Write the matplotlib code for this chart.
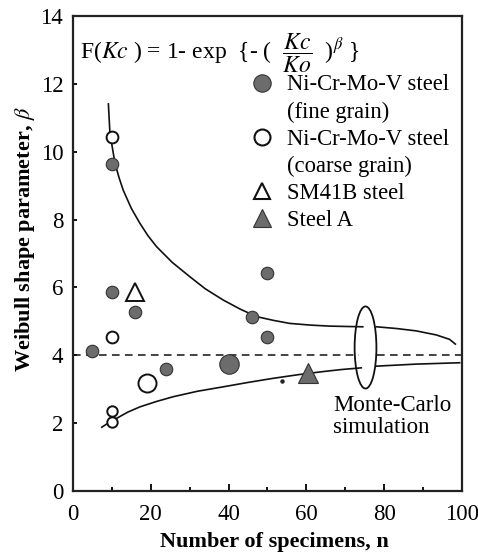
import matplotlib
matplotlib.use("Agg")
import matplotlib.pyplot as plt
from matplotlib.lines import Line2D
from matplotlib.patches import Ellipse

plt.rcParams['font.family'] = ['Liberation Serif', 'DejaVu Serif']
plt.rcParams['mathtext.fontset'] = 'stix'

# ---- data ----
fine_n = [5, 10, 10, 16, 24, 40, 46, 50, 50]
fine_beta = [4.12, 9.64, 5.86, 5.27, 3.59, 3.75, 5.13, 6.44, 4.55]
coarse_n = [10, 10, 19, 10, 10]
coarse_beta = [10.42, 4.55, 3.19, 2.36, 2.03]
sm41b_n = [16]
sm41b_beta = [5.87]
steelA_n = [60.4]
steelA_beta = [3.48]
dot_n = [53.7]
dot_beta = [3.24]

# Monte-Carlo bounds, left part (before the bracket) and right part
upper_n = [9.1, 9.5, 10.8, 11.8, 12.9, 15.0, 17.2, 19.3, 21.5, 25.5, 30.0, 34.0,
           38.6, 43.0, 47.2, 51.5, 55.7, 61.0, 66.0, 70.0, 74.5]
upper_beta = [11.41, 10.54, 9.66, 9.25, 8.87, 8.33, 7.89, 7.52, 7.20, 6.74, 6.32, 5.96,
              5.63, 5.36, 5.14, 5.03, 4.94, 4.89, 4.86, 4.85, 4.84]
upper_n2 = [78.0, 83.1, 88.2, 93.4, 96.8, 98.3]
upper_beta2 = [4.84, 4.79, 4.72, 4.60, 4.47, 4.33]
lower_n = [7.4, 9.3, 11.2, 14.0, 17.2, 21.5, 25.8, 32.0, 38.6, 45.0, 51.4, 58.0,
           64.3, 69.0, 74.1]
lower_beta = [1.88, 2.02, 2.14, 2.32, 2.48, 2.64, 2.78, 2.94, 3.07, 3.20, 3.32, 3.43,
              3.52, 3.58, 3.63]
lower_n2 = [78.0, 88.2, 99.4]
lower_beta2 = [3.68, 3.74, 3.78]
beta_ref = 4.0

x_ticks = [0, 20, 40, 60, 80, 100]
y_ticks = [0, 2, 4, 6, 8, 10, 12, 14]

# ---- styles ----
fine_sizes = [9, 9, 9, 9, 9, 14, 9, 9, 9]
coarse_sizes = [8.5, 8.5, 13, 7.5, 7.5]
FILL = '#6c6c6c'
EDGE = '#333333'
INK = '#111111'

fig = plt.figure(figsize=(4.78, 5.56), dpi=100)
ax = fig.add_axes([0.1527, 0.1169, 0.8138, 0.8543])

ax.plot(upper_n, upper_beta, color=INK, lw=1.2, zorder=2)
ax.plot(upper_n2, upper_beta2, color=INK, lw=1.2, zorder=2)
ax.plot(lower_n, lower_beta, color=INK, lw=1.2, zorder=2)
ax.plot(lower_n2, lower_beta2, color=INK, lw=1.2, zorder=2)
ax.plot([0, 73.5], [beta_ref, beta_ref], color=INK, lw=1.1, dashes=(5, 3.5), zorder=2)
ax.plot([78.2, 100], [beta_ref, beta_ref], color=INK, lw=1.1, dashes=(5, 3.5), zorder=2)
ax.add_patch(Ellipse((75.2, 4.23), 5.6, 2.42, fill=False, ec=INK, lw=1.3, zorder=3))

for n, b, s in zip(fine_n, fine_beta, fine_sizes):
    ax.plot(n, b, 'o', ms=s, mfc=FILL, mec=EDGE, mew=0.8, zorder=5, clip_on=False)
for n, b, s in zip(coarse_n, coarse_beta, coarse_sizes):
    ax.plot(n, b, 'o', ms=s, mfc='white', mec=INK, mew=1.4, zorder=5)
ax.plot(sm41b_n, sm41b_beta, '^', ms=13, mfc='white', mec=INK, mew=1.4, zorder=5)
ax.plot(steelA_n, steelA_beta, '^', ms=14, mfc=FILL, mec=EDGE, mew=0.8, zorder=5)
ax.plot(dot_n, dot_beta, 'o', ms=2.2, color='#222222', zorder=5)

ax.set_xlim(0, 100)
ax.set_ylim(0, 14)
ax.set_xticks(x_ticks)
ax.set_xticks(range(10, 100, 20), minor=True)
ax.set_yticks(y_ticks)
ax.tick_params(axis='x', which='major', direction='in', length=5, width=1.3,
               labelsize=16.5, pad=9, top=False)
ax.tick_params(axis='x', which='minor', direction='in', length=3, width=1.3, top=False)
ax.tick_params(axis='y', which='major', direction='in', length=3, width=1.3,
               labelsize=16.5, pad=7, right=False)
for sp in ax.spines.values():
    sp.set_linewidth(1.6)
    sp.set_color('#222222')

ax.set_xlabel('Number of specimens, n', fontsize=16, fontweight='bold')
ax.set_ylabel(r'Weibull shape parameter, $\beta$', fontsize=16, fontweight='bold')
ax.xaxis.set_label_coords(0.518, -0.087)
ax.yaxis.set_label_coords(-0.093, 0.53)

ax.text(1.8, 12.73,
        r'F($Kc$ ) = 1- exp  {- (  $\dfrac{Kc}{Ko}$  )$^{\beta}$ }',
        fontsize=17, va='baseline', ha='left')

ax.text(66.8, 2.2, 'Monte-Carlo\nsimulation', fontsize=16.5, va='center',
        ha='left', linespacing=1.1)

blank = Line2D([], [], linestyle='none')
handles = [
    Line2D([], [], linestyle='none', marker='o', ms=12.5, mfc=FILL, mec=EDGE, mew=0.8),
    blank,
    Line2D([], [], linestyle='none', marker='o', ms=11.5, mfc='white', mec=INK, mew=1.5),
    blank,
    Line2D([], [], linestyle='none', marker='^', ms=12, mfc='white', mec=INK, mew=1.5),
    Line2D([], [], linestyle='none', marker='^', ms=12.5, mfc=FILL, mec=EDGE, mew=0.8),
]
labels = ['Ni-Cr-Mo-V steel', '(fine grain)', 'Ni-Cr-Mo-V steel', '(coarse grain)',
          'SM41B steel', 'Steel A']
ax.legend(handles, labels, loc='upper left', bbox_to_anchor=(0.457, 0.877),
          frameon=False, fontsize=16.3, borderpad=0, borderaxespad=0,
          handlelength=1.0, handletextpad=0.6, labelspacing=0.27)

fig.savefig('out.png', dpi=100)
